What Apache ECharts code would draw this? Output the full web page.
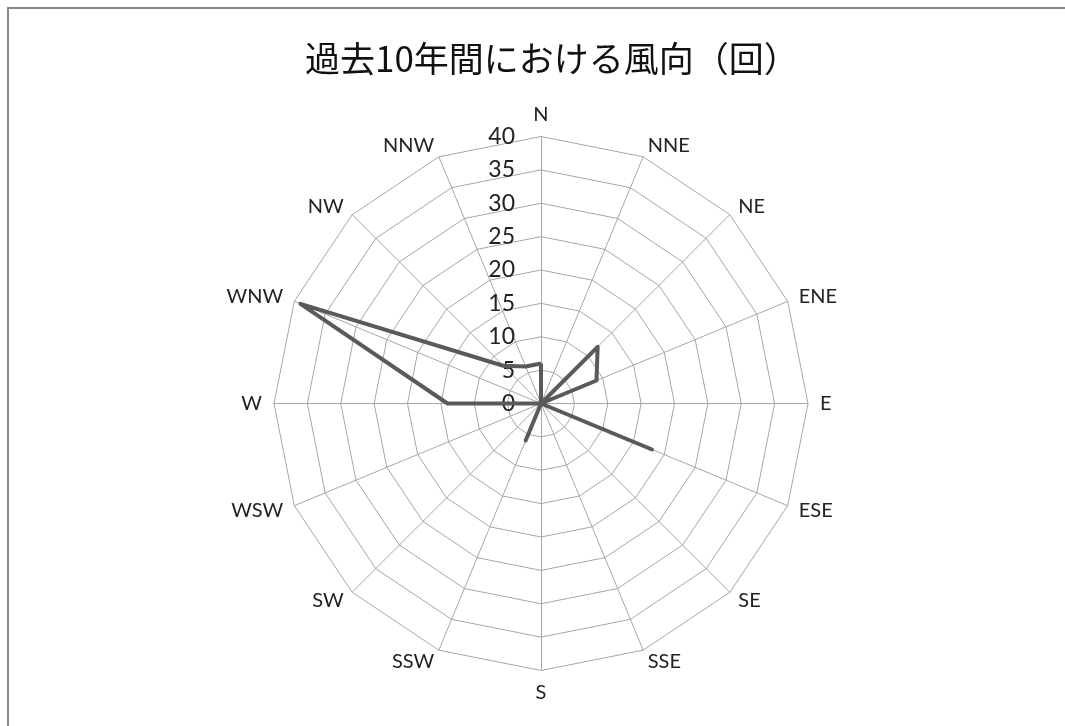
<!DOCTYPE html>
<html>
<head>
<meta charset="utf-8">
<script src="https://cdn.jsdelivr.net/npm/echarts@6/dist/echarts.min.js"></script>
<style>
  html, body { margin: 0; padding: 0; background: #fff; }
  #frame { position: absolute; left: 7px; top: 7px; width: 1100px; height: 800px; border: 2px solid #888; box-sizing: border-box; }
  #chart { position: absolute; left: 0; top: 0; width: 1065px; height: 726px; }
</style>
</head>
<body>
<div id="frame"></div>
<div id="chart"></div>
<script>
const titleText = '過去10年間における風向（回）';
const directions = ['N','NNE','NE','ENE','E','ESE','SE','SSE','S','SSW','SW','WSW','W','WNW','NW','NNW'];
const counts = [6, 0, 12, 9, 0, 18, 0, 0, 0, 6, 0, 0, 14, 39, 8, 6];
const axisMax = 40;
const axisSplits = 8;

// ECharts places radar indicators counter-clockwise; reorder so they run clockwise from N.
const order = [0].concat(directions.map((d, i) => i).slice(1).reverse());
const indicators = order.map((i, k) => {
  const ind = { name: directions[i], max: axisMax, min: 0 };
  if (k === 0) {
    ind.axisLabel = { show: true };
  }
  return ind;
});
const seriesValues = order.map(i => counts[i]);

const chart = echarts.init(document.getElementById('chart'), null, { renderer: 'canvas' });
chart.setOption({
  backgroundColor: 'transparent',
  animation: false,
  title: {
    text: titleText,
    left: 300,
    top: 36,
    textStyle: { fontFamily: 'Noto Sans CJK JP', fontSize: 35, fontWeight: 'normal', color: '#111' }
  },
  radar: {
    center: [541, 403.5],
    radius: 267,
    startAngle: 90,
    shape: 'polygon',
    splitNumber: axisSplits,
    indicator: indicators,
    axisName: { color: '#222', fontSize: 20, fontFamily: 'Lato' },
    nameGap: 12,
    axisLine: { show: true, lineStyle: { color: '#a6a6a6', width: 1 } },
    splitLine: { show: true, lineStyle: { color: '#a6a6a6', width: 1 } },
    splitArea: { show: false },
    axisTick: { show: false },
    axisLabel: { show: false, color: '#222', fontSize: 23, fontFamily: 'Lato', margin: 26 }
  },
  series: [{
    type: 'radar',
    symbol: 'none',
    lineStyle: { color: '#5a5a5a', width: 4 },
    data: [{ value: seriesValues, name: '風向' }]
  }]
});
</script>
</body>
</html>
